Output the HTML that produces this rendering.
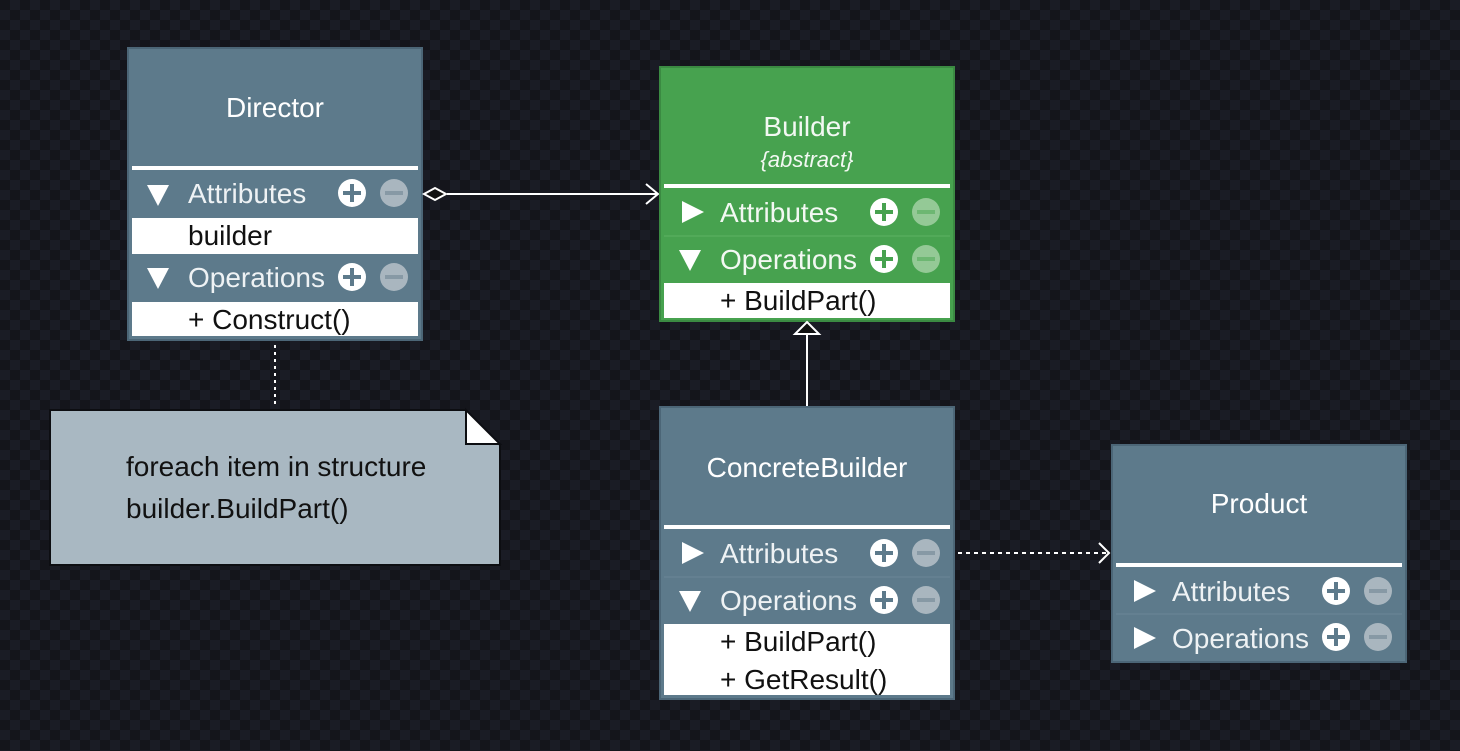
<!DOCTYPE html>
<html><head><meta charset="utf-8"><style>
html,body{margin:0;padding:0}
body{width:1460px;height:751px;overflow:hidden;background-color:#15161c;
background-image:repeating-conic-gradient(#1a1c25 0 25%, #14151b 0 50%);background-size:20px 20px;}
svg{position:absolute;left:0;top:0}
text{font-family:"Liberation Sans",sans-serif}
</style></head><body>
<svg width="1460" height="751" viewBox="0 0 1460 751">
<defs>
<g id="pm">
<circle cx="0" cy="0" r="14" fill="#fff"/>
<rect x="-9" y="-2" width="18" height="4" fill="#5d7a8b"/>
<rect x="-2" y="-9" width="4" height="18" fill="#5d7a8b"/>
<circle cx="42" cy="0" r="14" fill="#a9b6bf"/>
<rect x="33" y="-2" width="18" height="4" fill="#8799a5"/>
</g>
<g id="pmg">
<circle cx="0" cy="0" r="14" fill="#fff"/>
<rect x="-9" y="-2" width="18" height="4" fill="#47a24f"/>
<rect x="-2" y="-9" width="4" height="18" fill="#47a24f"/>
<circle cx="42" cy="0" r="14" fill="#94c996"/>
<rect x="33" y="-2" width="18" height="4" fill="#6db772"/>
</g>
</defs>

<!-- Director -->
<rect x="128" y="48" width="294" height="292" fill="#5d7a8b" stroke="#4c6677" stroke-width="2"/>
<text x="275" y="117" font-size="28" fill="#fff" text-anchor="middle">Director</text>
<rect x="132" y="166" width="286" height="4" fill="#fff"/>
<polygon points="147,185 169,185 158,206" fill="#fff"/>
<text x="188" y="203" font-size="28" fill="#eef2f4">Attributes</text>
<use href="#pm" x="352" y="193"/>
<rect x="132" y="218" width="286" height="36" fill="#fff"/>
<text x="188" y="245" font-size="28" fill="#111">builder</text>
<polygon points="147,268 169,268 158,289" fill="#fff"/>
<text x="188" y="287" font-size="28" fill="#eef2f4">Operations</text>
<use href="#pm" x="352" y="277"/>
<rect x="132" y="302" width="286" height="34" fill="#fff"/>
<text x="188" y="329" font-size="28" fill="#111">+ Construct()</text>

<!-- aggregation -->
<line x1="447" y1="194" x2="658" y2="194" stroke="#fff" stroke-width="2"/>
<polygon points="424,194 435,188 446,194 435,200" fill="#111" stroke="#fff" stroke-width="2"/>
<polyline points="646,184 658,194 646,204" fill="none" stroke="#fff" stroke-width="2"/>

<!-- Builder -->
<rect x="660" y="67" width="294" height="254" fill="#47a24f" stroke="#3b8a42" stroke-width="2"/>
<text x="807" y="136" font-size="28" fill="#f2f8f2" text-anchor="middle">Builder</text>
<text x="807" y="167" font-size="22" font-style="italic" fill="#f2f8f2" text-anchor="middle">{abstract}</text>
<rect x="664" y="184" width="286" height="4" fill="#fff"/>
<polygon points="682,201 682,223 704,212" fill="#fff"/>
<text x="720" y="222" font-size="28" fill="#f2f8f2">Attributes</text>
<use href="#pmg" x="884" y="212"/>
<line x1="664" y1="236" x2="950" y2="236" stroke="#5cb363" stroke-width="1"/>
<polygon points="679,250 701,250 690,271" fill="#fff"/>
<text x="720" y="269" font-size="28" fill="#f2f8f2">Operations</text>
<use href="#pmg" x="884" y="259"/>
<rect x="664" y="283" width="286" height="35" fill="#fff"/>
<text x="720" y="310" font-size="28" fill="#111">+ BuildPart()</text>

<!-- generalization -->
<line x1="807" y1="407" x2="807" y2="334" stroke="#fff" stroke-width="2"/>
<polygon points="807,322 819,334 795,334" fill="#111" stroke="#fff" stroke-width="2"/>

<!-- ConcreteBuilder -->
<rect x="660" y="407" width="294" height="292" fill="#5d7a8b" stroke="#4c6677" stroke-width="2"/>
<text x="807" y="477" font-size="28" fill="#fff" text-anchor="middle">ConcreteBuilder</text>
<rect x="664" y="525" width="286" height="4" fill="#fff"/>
<polygon points="682,542 682,564 704,553" fill="#fff"/>
<text x="720" y="563" font-size="28" fill="#eef2f4">Attributes</text>
<use href="#pm" x="884" y="553"/>
<line x1="664" y1="577" x2="950" y2="577" stroke="#6b8797" stroke-width="1"/>
<polygon points="679,591 701,591 690,612" fill="#fff"/>
<text x="720" y="610" font-size="28" fill="#eef2f4">Operations</text>
<use href="#pm" x="884" y="600"/>
<rect x="664" y="624" width="286" height="71" fill="#fff"/>
<text x="720" y="651" font-size="28" fill="#111">+ BuildPart()</text>
<text x="720" y="689" font-size="28" fill="#111">+ GetResult()</text>

<!-- dependency -->
<line x1="958" y1="553" x2="1108" y2="553" stroke="#fff" stroke-width="2" stroke-dasharray="4,4"/>
<polyline points="1099,543 1109,553 1099,563" fill="none" stroke="#fff" stroke-width="2"/>

<!-- Product -->
<rect x="1112" y="445" width="294" height="217" fill="#5d7a8b" stroke="#4c6677" stroke-width="2"/>
<text x="1259" y="513" font-size="28" fill="#fff" text-anchor="middle">Product</text>
<rect x="1116" y="563" width="286" height="4" fill="#fff"/>
<polygon points="1134,580 1134,602 1156,591" fill="#fff"/>
<text x="1172" y="601" font-size="28" fill="#eef2f4">Attributes</text>
<use href="#pm" x="1336" y="591"/>
<line x1="1116" y1="614" x2="1402" y2="614" stroke="#6b8797" stroke-width="1"/>
<polygon points="1134,627 1134,649 1156,638" fill="#fff"/>
<text x="1172" y="648" font-size="28" fill="#eef2f4">Operations</text>
<use href="#pm" x="1336" y="637"/>

<!-- note link -->
<line x1="275" y1="345" x2="275" y2="408" stroke="#fff" stroke-width="2" stroke-dasharray="3,4"/>

<!-- Note -->
<polygon points="50,410 466,410 500,445 500,565 50,565" fill="#a9b8c2" stroke="#0d0e12" stroke-width="2"/>
<polygon points="466,410 500,444 466,444" fill="#fff" stroke="#0d0e12" stroke-width="2"/>
<text x="126" y="476" font-size="28" fill="#111">foreach item in structure</text>
<text x="126" y="518" font-size="28" fill="#111">builder.BuildPart()</text>
</svg>
</body></html>
